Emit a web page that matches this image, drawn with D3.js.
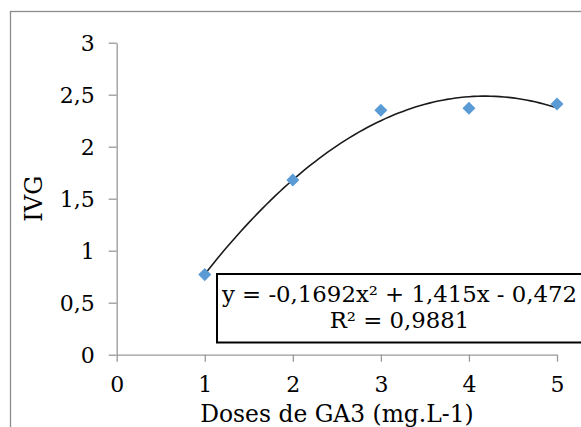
<!DOCTYPE html>
<html>
<head>
<meta charset="utf-8">
<script src="https://cdn.jsdelivr.net/npm/d3@7"></script>
<style>
	body { margin: 0; background: #fff; }
	svg { display: block; }
	text { font-family: "DejaVu Serif", serif; fill: #000; }
</style>
</head>
<body>
<div id="chart"></div>
<script>

// doses of GA3 and measured IVG
let doses = [1, 2, 3, 4, 5];
let ivg = [0.77, 1.68, 2.35, 2.37, 2.41];

// quadratic trendline coefficients shown in the label (a x² + b x + c)
let trendCoef = [-0.1692, 1.415, -0.472];
let trendRange = [1, 5];

let xTicks = [0, 1, 2, 3, 4, 5];
let yTicks = [0, 0.5, 1, 1.5, 2, 2.5, 3];

let eqLines = ["y = -0,1692x² + 1,415x - 0,472", "R² = 0,9881"];

let width = 581, height = 427;

let svg = d3.select("#chart").append("svg")
	.attr("width", width)
	.attr("height", height);

// outer chart border (right and bottom fall off the picture)
svg.append("rect")
	.attr("x", 10.5).attr("y", 11.5)
	.attr("width", 600).attr("height", 500)
	.attr("fill", "none")
	.attr("stroke", "#8c8c8c")
	.attr("stroke-width", 1.3);

let x = d3.scaleLinear().domain([0, 5]).range([116.7, 557]);
let y = d3.scaleLinear().domain([0, 3]).range([354.7, 42.7]);

let fmt = d => String(d).replace(".", ",");

// axes
let yAxis = svg.append("g")
	.attr("transform", "translate(" + x(0) + ",0)")
	.call(d3.axisLeft(y).tickValues(yTicks).tickFormat(fmt).tickSize(8).tickSizeOuter(0).tickPadding(14));

let xAxis = svg.append("g")
	.attr("transform", "translate(0," + y(0) + ")")
	.call(d3.axisBottom(x).tickValues(xTicks).tickFormat(fmt).tickSize(7).tickSizeOuter(0));

[yAxis, xAxis].forEach(g => {
	g.select(".domain").attr("stroke", "#999").attr("stroke-width", 1.3);
	g.selectAll(".tick line").attr("stroke", "#999").attr("stroke-width", 1.3);
	g.selectAll("text").attr("font-family", "DejaVu Serif").attr("font-size", 22).attr("fill", "#000");
});

yAxis.selectAll("text").attr("dy", "0.36em");
xAxis.selectAll("text").attr("y", 37.5).attr("dy", 0);

// trendline
let trend = d3.range(trendRange[0], trendRange[1] + 0.001, 0.05).map(v => [v, trendCoef[0] * v * v + trendCoef[1] * v + trendCoef[2]]);

svg.append("path")
	.datum(trend)
	.attr("fill", "none")
	.attr("stroke", "#1a1a1a")
	.attr("stroke-width", 1.6)
	.attr("d", d3.line().x(d => x(d[0])).y(d => y(d[1])));

// markers
svg.selectAll(".pt")
	.data(doses)
	.enter().append("path")
	.attr("class", "pt")
	.attr("transform", (d, i) => "translate(" + x(d) + "," + y(ivg[i]) + ") rotate(45)")
	.attr("d", d3.symbol().type(d3.symbolSquare).size(85))
	.attr("fill", "#5b9bd5");

// equation label
svg.append("rect")
	.attr("x", 217).attr("y", 274)
	.attr("width", 365).attr("height", 68.5)
	.attr("fill", "#fff")
	.attr("stroke", "#000")
	.attr("stroke-width", 2);

svg.selectAll(".eq")
	.data(eqLines)
	.enter().append("text")
	.attr("class", "eq")
	.attr("x", 399.5)
	.attr("y", (d, i) => 302 + i * 26)
	.attr("text-anchor", "middle")
	.attr("font-size", 22.8)
	.text(d => d);

// axis titles
svg.append("text")
	.attr("x", 337)
	.attr("y", 422)
	.attr("text-anchor", "middle")
	.attr("font-size", 23.4)
	.text("Doses de GA3 (mg.L-1)");

svg.append("text")
	.attr("transform", "translate(42,198.7) rotate(-90)")
	.attr("text-anchor", "middle")
	.attr("font-size", 24)
	.text("IVG");

</script>
</body>
</html>
